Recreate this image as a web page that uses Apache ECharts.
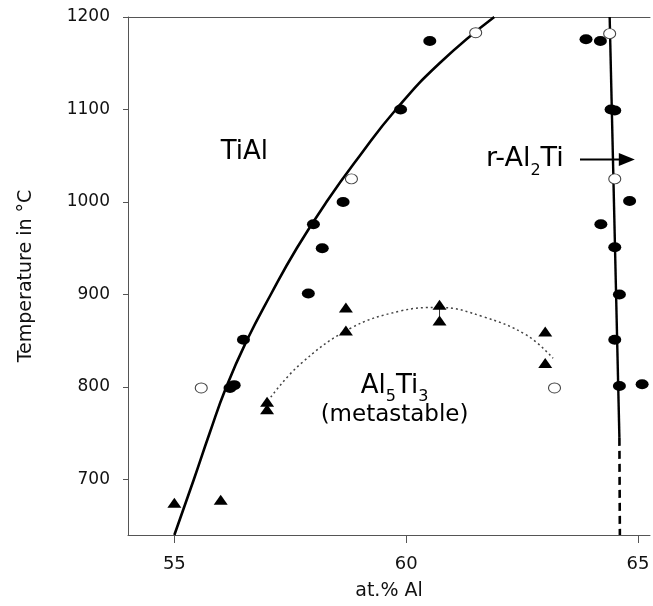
<!DOCTYPE html>
<html>
<head>
<meta charset="utf-8">
<script src="https://cdn.jsdelivr.net/npm/echarts@6/dist/echarts.min.js"></script>
<style>
  body { margin: 0; background: #fff; }
  #chart { width: 653px; height: 606px; }
</style>
</head>
<body>
<div id="chart"></div>
<script>
// measured points, [at.% Al, temperature °C]
var filledPts = [
    [60.51, 1174], [59.88, 1100], [58.64, 1000], [58.0, 976], [58.19, 950],
    [57.89, 901], [56.49, 851], [56.2, 799], [56.29, 802],
    [63.88, 1176], [64.19, 1174], [64.42, 1100], [64.5, 1099], [64.82, 1001],
    [64.2, 976], [64.5, 951], [64.6, 900], [64.5, 851], [64.6, 801], [65.09, 803]
];
var openPts = [[61.5, 1183], [58.82, 1025], [64.39, 1182], [64.5, 1025], [55.58, 799], [63.2, 799]];
var triPts = [
    [55.0, 675], [56.0, 678], [57.0, 784], [57.0, 776], [58.7, 886], [58.7, 861],
    [60.72, 889], [60.72, 872], [63.0, 860], [63.0, 826]
];
var errBar = [[60.72, 872], [60.72, 889]];

// TiAl phase boundary
var tialX = [55.0, 55.42, 55.76, 56.12, 56.56, 57.08, 57.64, 58.28, 59.0, 59.78, 60.72, 61.9];
var tialT = [640, 700, 750, 800, 850, 900, 950, 1000, 1050, 1100, 1150, 1200];

// r-Al2Ti boundary (solid part, dashed part)
var alTiSolid = [[64.39, 1200], [64.6, 745]];
var alTiDashed = [[64.6, 745], [64.61, 640]];

// Al5Ti3 dotted dome
var domeX = [57.08, 57.7, 58.78, 59.86, 60.72, 61.66, 62.6, 63.17];
var domeT = [789, 824, 863, 882, 886, 876, 856, 831];

var arrowPts = [[63.75, 1046], [64.76, 1046]];

var xTicks = [55, 60, 65];
var yTicks = [700, 800, 900, 1000, 1100, 1200];

var FONT = 'DejaVu Sans';
var ELLIPSE = 'path://M50,0A50,50,0,1,1,50,100A50,50,0,1,1,50,0Z';

function zip(xs, ys) {
    return xs.map(function (x, i) { return [x, ys[i]]; });
}

var chart = echarts.init(document.getElementById('chart'));

var option = {
    animation: false,
    backgroundColor: '#fff',
    grid: { left: 128, right: 3, top: 17, bottom: 71 },
    xAxis: [
        {
            type: 'value',
            min: 54,
            max: 65.26,
            name: 'at.% Al',
            nameLocation: 'middle',
            nameGap: 47,
            nameTextStyle: { fontFamily: FONT, fontSize: 19, color: '#111' },
            axisLine: { show: true, lineStyle: { color: '#555', width: 1 } },
            axisTick: { show: true, length: 8, lineStyle: { color: '#555' }, customValues: xTicks },
            axisLabel: {
                margin: 20, fontFamily: FONT, fontSize: 18, color: '#111', customValues: xTicks,
                formatter: function (v) { return String(v); }
            },
            splitLine: { show: false }
        },
        {
            type: 'value',
            position: 'top',
            min: 54,
            max: 65.26,
            axisLine: { show: true, onZero: false, lineStyle: { color: '#555', width: 1 } },
            axisTick: { show: false },
            axisLabel: { show: false },
            splitLine: { show: false }
        }
    ],
    yAxis: {
        type: 'value',
        min: 640,
        max: 1200,
        name: 'Temperature in °C',
        nameLocation: 'middle',
        nameGap: 92,
        nameTextStyle: { fontFamily: FONT, fontSize: 19, color: '#111' },
        axisLine: { show: true, lineStyle: { color: '#555', width: 1 } },
        axisTick: { show: true, length: 5, lineStyle: { color: '#555' }, customValues: yTicks },
        axisLabel: {
            margin: 18, fontFamily: FONT, fontSize: 17, color: '#111', customValues: yTicks,
            formatter: function (v) { return String(v); }
        },
        splitLine: { show: false }
    },
    series: [
        {
            name: 'TiAl boundary',
            type: 'line',
            smooth: 0.5,
            symbol: 'none',
            lineStyle: { color: '#000', width: 2.6 },
            data: zip(tialX, tialT),
            z: 3
        },
        {
            name: 'Al2Ti solid',
            type: 'line',
            symbol: 'none',
            lineStyle: { color: '#000', width: 2.4 },
            data: alTiSolid,
            z: 3
        },
        {
            name: 'Al2Ti dashed',
            type: 'line',
            symbol: 'none',
            lineStyle: { color: '#000', width: 2.6, type: [8, 5] },
            data: alTiDashed,
            z: 3
        },
        {
            name: 'Al5Ti3 dome',
            type: 'line',
            smooth: 0.4,
            symbol: 'none',
            lineStyle: { color: '#444', width: 1.5, type: [2, 3] },
            data: zip(domeX, domeT),
            z: 3
        },
        {
            name: 'err',
            type: 'line',
            symbol: 'none',
            lineStyle: { color: '#333', width: 1 },
            data: errBar,
            z: 3
        },
        {
            name: 'filled',
            type: 'scatter',
            symbol: ELLIPSE,
            symbolSize: [13, 10],
            itemStyle: { color: '#000', opacity: 1 },
            data: filledPts,
            z: 5
        },
        {
            name: 'open',
            type: 'scatter',
            symbol: ELLIPSE,
            symbolSize: [12, 10],
            itemStyle: { color: '#fff', borderColor: '#444', borderWidth: 1, opacity: 1 },
            data: openPts,
            z: 5
        },
        {
            name: 'triangles',
            type: 'scatter',
            symbol: 'triangle',
            symbolSize: [14, 10],
            itemStyle: { color: '#000', opacity: 1 },
            data: triPts,
            z: 5
        },
        {
            name: 'arrow',
            type: 'line',
            showSymbol: true,
            symbol: 'none',
            lineStyle: { color: '#000', width: 2 },
            data: [
                { value: arrowPts[0], symbol: 'none' },
                { value: arrowPts[1], symbol: 'path://M0,0L10,5L0,10Z', symbolSize: [16, 13], itemStyle: { color: '#000' } }
            ],
            z: 4
        },
        {
            name: 'labels',
            type: 'scatter',
            symbolSize: 1,
            itemStyle: { color: 'rgba(0,0,0,0)', opacity: 1 },
            silent: true,
            label: {
                show: true,
                position: 'inside',
                color: '#000',
                fontFamily: FONT,
                rich: {
                    n: { fontFamily: FONT, fontSize: 26, color: '#000', lineHeight: 30 },
                    r: { fontFamily: FONT, fontSize: 27, color: '#000', lineHeight: 30 },
                    s: { fontFamily: FONT, fontSize: 16, color: '#000', lineHeight: 38, verticalAlign: 'bottom' },
                    m: { fontFamily: FONT, fontSize: 23, color: '#000', lineHeight: 28 }
                }
            },
            data: [
                { value: [56.51, 1054], label: { formatter: '{n|TiAl}' } },
                { value: [62.56, 1046], label: { formatter: '{r|r-Al}{s|2}{r|Ti}' } },
                { value: [59.75, 801], label: { formatter: '{n|Al}{s|5}{n|Ti}{s|3}' } },
                { value: [59.75, 770], label: { formatter: '{m|(metastable)}' } }
            ],
            z: 6
        }
    ]
};

chart.setOption(option);
</script>
</body>
</html>
